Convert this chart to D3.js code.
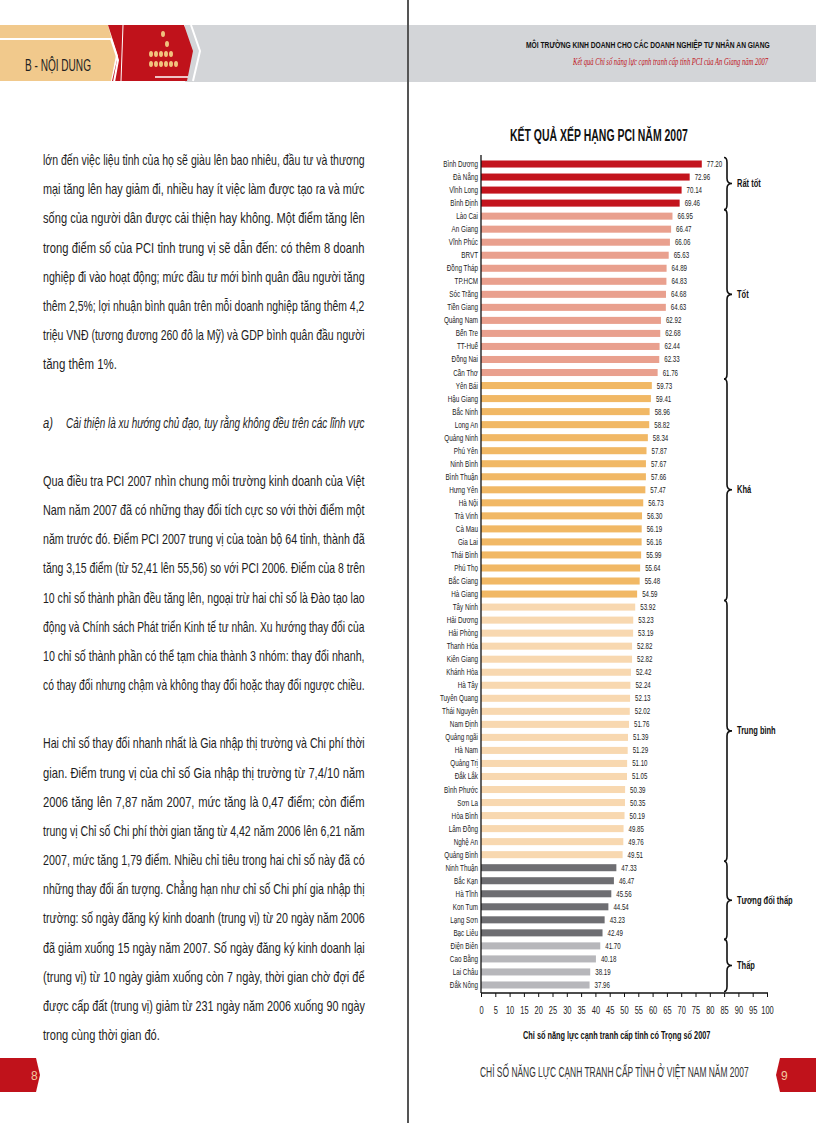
<!DOCTYPE html>
<html><head><meta charset="utf-8">
<script src="https://cdn.jsdelivr.net/npm/d3@7"></script>
<style>html,body{margin:0;padding:0;background:#fff;} svg{display:block}</style>
</head><body>
<svg id="page" width="816" height="1123"></svg>
<script>
// ---------- DATA ----------
const provinces = ["Bình Dương","Đà Nẵng","Vĩnh Long","Bình Định","Lào Cai","An Giang","Vĩnh Phúc","BRVT","Đồng Tháp","TP.HCM","Sóc Trăng","Tiền Giang","Quảng Nam","Bến Tre","TT-Huế","Đồng Nai","Cần Thơ","Yên Bái","Hậu Giang","Bắc Ninh","Long An","Quảng Ninh","Phú Yên","Ninh Bình","Bình Thuận","Hưng Yên","Hà Nội","Trà Vinh","Cà Mau","Gia Lai","Thái Bình","Phú Thọ","Bắc Giang","Hà Giang","Tây Ninh","Hải Dương","Hải Phòng","Thanh Hóa","Kiên Giang","Khánh Hòa","Hà Tây","Tuyên Quang","Thái Nguyên","Nam Định","Quảng ngãi","Hà Nam","Quảng Trị","Đắk Lắk","Bình Phước","Sơn La","Hòa Bình","Lâm Đồng","Nghệ An","Quảng Bình","Ninh Thuận","Bắc Kạn","Hà Tĩnh","Kon Tum","Lạng Sơn","Bạc Liêu","Điện Biên","Cao Bằng","Lai Châu","Đắk Nông"];
const scores = [77.20,72.96,70.14,69.46,66.95,66.47,66.06,65.63,64.89,64.83,64.68,64.63,62.92,62.68,62.44,62.33,61.76,59.73,59.41,58.96,58.82,58.34,57.87,57.67,57.66,57.47,56.73,56.30,56.19,56.16,55.99,55.64,55.48,54.59,53.92,53.23,53.19,52.82,52.82,52.42,52.24,52.13,52.02,51.76,51.39,51.29,51.10,51.05,50.39,50.35,50.19,49.85,49.76,49.51,47.33,46.47,45.56,44.54,43.23,42.49,41.70,40.18,38.19,37.96];
const groupLabels = ["Rất tốt","Tốt","Khá","Trung bình","Tương đối thấp","Thấp"];
const groupSizes = [4,13,17,20,6,4];
const groupColors = ["#c3141d","#e9a08e","#f1b865","#f8d8b0","#6e6e72","#b7b7bb"];
const xTickLabels = [0,5,10,15,20,25,30,35,40,45,50,55,60,65,70,75,80,85,90,95,100];

const chartTitle = "KẾT QUẢ XẾP HẠNG PCI NĂM 2007";
const axisTitle = "Chỉ số năng lực cạnh tranh cấp tỉnh có Trọng số 2007";

const para1 = [
"lớn đến việc liệu tỉnh của họ sẽ giàu lên bao nhiêu, đầu tư và thương",
"mại tăng lên hay giảm đi, nhiều hay ít việc làm được tạo ra và mức",
"sống của người dân được cải thiện hay không. Một điểm tăng lên",
"trong điểm số của PCI tỉnh trung vị sẽ dẫn đến: có thêm 8 doanh",
"nghiệp đi vào hoạt động; mức đầu tư mới bình quân đầu người tăng",
"thêm 2,5%; lợi nhuận bình quân trên mỗi doanh nghiệp tăng thêm 4,2",
"triệu VNĐ (tương đương 260 đô la Mỹ) và GDP bình quân đầu người",
"tăng thêm 1%."];
const headingA = "Cải thiện là xu hướng chủ đạo, tuy rằng không đều trên các lĩnh vực";
const para2 = [
"Qua điều tra PCI 2007 nhìn chung môi trường kinh doanh của Việt",
"Nam năm 2007 đã có những thay đổi tích cực so với thời điểm một",
"năm trước đó. Điểm PCI 2007 trung vị của toàn bộ 64 tỉnh, thành đã",
"tăng 3,15 điểm (từ 52,41 lên 55,56) so với PCI 2006. Điểm của 8 trên",
"10 chỉ số thành phần đều tăng lên, ngoại trừ hai chỉ số là Đào tạo lao",
"động và Chính sách Phát triển Kinh tế tư nhân. Xu hướng thay đổi của",
"10 chỉ số thành phần có thể tạm chia thành 3 nhóm: thay đổi nhanh,",
"có thay đổi nhưng chậm và không thay đổi hoặc thay đổi ngược chiều."];
const para3 = [
"Hai chỉ số thay đổi nhanh nhất là Gia nhập thị trường và Chi phí thời",
"gian. Điểm trung vị của chỉ số Gia nhập thị trường từ 7,4/10 năm",
"2006 tăng lên 7,87 năm 2007, mức tăng là 0,47 điểm; còn điểm",
"trung vị Chỉ số Chi phí thời gian tăng từ 4,42 năm 2006 lên 6,21 năm",
"2007, mức tăng 1,79 điểm. Nhiều chỉ tiêu trong hai chỉ số này đã có",
"những thay đổi ấn tượng. Chẳng hạn như chỉ số Chi phí gia nhập thị",
"trường: số ngày đăng ký kinh doanh (trung vị) từ 20 ngày năm 2006",
"đã giảm xuống 15 ngày năm 2007. Số ngày đăng ký kinh doanh lại",
"(trung vị) từ 10 ngày giảm xuống còn 7 ngày, thời gian chờ đợi để",
"được cấp đất (trung vị) giảm từ 231 ngày năm 2006 xuống 90 ngày",
"trong cùng thời gian đó."];

// ---------- DRAW ----------
const FONT = "'Liberation Sans', Arial, 'DejaVu Sans', sans-serif";
const svg = d3.select("#page");

// text fitted to a width by horizontal scaling (optionally justified with word-spacing)
function fitText(parent, txt, x, y, width, o = {}) {
  const t = parent.append("text").attr("font-family", o.family || FONT).attr("font-size", o.size || 14)
    .attr("fill", o.fill || "#1e1e1e").text(txt);
  if (o.weight) t.attr("font-weight", o.weight);
  if (o.style) t.attr("font-style", o.style);
  const w0 = t.node().getBBox().width;
  let s = width / w0;
  if (o.justify) {
    const base = o.base || 0.8;
    const spaces = (txt.match(/ /g) || []).length;
    if (spaces > 0 && width / base > w0) {
      t.attr("word-spacing", ((width / base) - w0) / spaces);
      const w1 = t.node().getBBox().width;
      s = width / w1;
    }
  }
  t.attr("transform", `translate(${x},${y}) scale(${s},1)`);
  return t;
}

// Header band
svg.append("rect").attr("x",185).attr("y",25).attr("width",631).attr("height",57).attr("fill","#d3d5d8");
svg.append("path").attr("d","M0,25 L108,25 L116,55 L111,81 L0,81 Z").attr("fill","#f1c98c");
svg.append("path").attr("d","M108,25 L184,25 L193,51 L187,81 L112,81 L118,56 Z").attr("fill","#c0121b");
svg.append("path").attr("d","M0,39 L111,39 L118,60 L114,82").attr("fill","none").attr("stroke","#fff").attr("stroke-width",2);
svg.append("path").attr("d","M191,25 L200,51 L193,81").attr("fill","none").attr("stroke","#fff").attr("stroke-width",2);
svg.append("path").attr("d","M123,25 L121,81").attr("fill","none").attr("stroke","#fff").attr("stroke-width",1);
svg.append("line").attr("x1",155).attr("x2",188).attr("y1",77).attr("y2",77).attr("stroke","#fff").attr("stroke-width",1.5);
const dotRows = [[163],[167],[151,156,161,166,171],[151,156,161,166,171,176]];
const dotYs = [34,44,54,64];
dotRows.forEach((xs,i)=>xs.forEach(xv=>svg.append("ellipse").attr("cx",xv).attr("cy",dotYs[i]).attr("rx",2).attr("ry",3).attr("fill","#f0c27e")));
fitText(svg, "B - NỘI DUNG", 25, 71, 66, {size:16, fill:"#222"});
fitText(svg, "MÔI TRƯỜNG KINH DOANH CHO CÁC DOANH NGHIỆP TƯ NHÂN AN GIANG", 526, 48, 244, {size:9, weight:"bold", fill:"#111"});
fitText(svg, "Kết quả Chỉ số năng lực cạnh tranh cấp tỉnh PCI của An Giang năm 2007", 573, 65, 197,
  {size:9.5, style:"italic", fill:"#c0121b", family:"'Liberation Serif','DejaVu Serif',serif"});

// Divider
svg.append("rect").attr("x",407).attr("y",0).attr("width",2).attr("height",1123).attr("fill","#555");

// Left page text
const LX = 43, LW = 322, LH = 29.17, LY0 = 165;
const lineY = n => LY0 + LH*n;
para1.forEach((t,i)=>{
  if (i === para1.length-1) fitText(svg, t, LX, lineY(i), 74, {});
  else fitText(svg, t, LX, lineY(i), LW, {justify:true});
});
svg.append("text").attr("transform",`translate(${LX},${lineY(9)}) scale(0.8,1)`).attr("font-family",FONT).attr("font-size",14)
  .attr("font-style","italic").attr("fill","#1e1e1e").text("a)");
fitText(svg, headingA, 66, lineY(9), 299, {style:"italic", justify:true});
para2.forEach((t,i)=>fitText(svg, t, LX, lineY(11+i), LW, {justify:true}));
para3.forEach((t,i)=>{
  if (i === para3.length-1) fitText(svg, t, LX, lineY(20+i), 117, {});
  else fitText(svg, t, LX, lineY(20+i), LW, {justify:true});
});

// Chart
const x = d3.scaleLinear().domain([0,100]).range([481,767]);
const y = d3.scaleBand().domain(provinces).range([157.5,991.5]).paddingInner(0.46).paddingOuter(0.23);
const groupOf = [];
groupSizes.forEach((s,g)=>{ for(let k=0;k<s;k++) groupOf.push(g); });
const rows = provinces.map((p,i)=>({p, v:scores[i], g:groupOf[i]}));

fitText(svg, chartTitle, 510, 141, 178, {size:16, weight:"bold", fill:"#111"});

const chart = svg.append("g");
chart.selectAll("rect.bar").data(rows).join("rect").attr("class","bar")
  .attr("x",x(0)).attr("y",d=>y(d.p)).attr("width",d=>x(d.v)-x(0)).attr("height",y.bandwidth())
  .attr("fill",d=>groupColors[d.g]);

chart.selectAll("text.prov").data(rows).join("text").attr("class","prov")
  .attr("transform",d=>`translate(478,${y(d.p)+y.bandwidth()/2+3}) scale(0.72,1)`)
  .attr("text-anchor","end").attr("font-family",FONT).attr("font-size",8.8).attr("fill","#222").text(d=>d.p);

chart.selectAll("text.val").data(rows).join("text").attr("class","val")
  .attr("transform",d=>`translate(${x(d.v)+5},${y(d.p)+y.bandwidth()/2+3}) scale(0.7,1)`)
  .attr("font-family",FONT).attr("font-size",8.8).attr("fill","#222").text(d=>d.v.toFixed(2));

// Axes
const axisY = 993;
chart.append("line").attr("x1",x(0)).attr("x2",x(0)).attr("y1",155).attr("y2",axisY).attr("stroke","#111").attr("stroke-width",1.3);
const ax = chart.append("g").attr("transform",`translate(0,${axisY})`)
  .call(d3.axisBottom(x).tickValues(xTickLabels).tickSize(4).tickPadding(9).tickFormat(d=>String(d)));
ax.select(".domain").attr("stroke","#111").attr("stroke-width",1.6).attr("d",`M${x(0)},0H768`);
ax.selectAll(".tick line").attr("stroke","#111").attr("stroke-width",1);
ax.selectAll(".tick text").attr("font-family",FONT).attr("font-size",11).attr("fill","#222").attr("transform","scale(0.68,1)");

fitText(svg, axisTitle, 523, 1039, 188, {size:10, weight:"bold", fill:"#111"});

// Group braces and labels
let start = 0;
const bx = 727;
groupSizes.forEach((s,g)=>{
  const top = y(provinces[start]) - 3;
  const bot = y(provinces[start+s-1]) + y.bandwidth() + 3;
  const mid = (top+bot)/2;
  const p = `M${bx-3},${top} Q${bx},${top} ${bx},${top+5} L${bx},${mid-5} Q${bx},${mid} ${bx+5},${mid} Q${bx},${mid} ${bx},${mid+5} L${bx},${bot-5} Q${bx},${bot} ${bx-3},${bot}`;
  svg.append("path").attr("d",p).attr("fill","none").attr("stroke","#111").attr("stroke-width",1.6);
  svg.append("text").attr("transform",`translate(737,${mid+3.5}) scale(0.75,1)`).attr("font-family",FONT)
    .attr("font-size",10).attr("font-weight","bold").attr("fill","#111").text(groupLabels[g]);
  start += s;
});

// Footer
svg.append("path").attr("d","M0,1058 L36,1058 L40,1075 L36,1092 L0,1092 Z").attr("fill","#c0121b");
svg.append("text").attr("x",31).attr("y",1080).attr("font-family",FONT).attr("font-size",12).attr("fill","#f3c9a0").text("8");
svg.append("path").attr("d","M780,1058 L816,1058 L816,1092 L780,1092 L776,1075 Z").attr("fill","#c0121b");
svg.append("text").attr("x",781).attr("y",1080).attr("font-family",FONT).attr("font-size",12).attr("fill","#f3c9a0").text("9");
fitText(svg, "CHỈ SỐ NĂNG LỰC CẠNH TRANH CẤP TỈNH Ở VIỆT NAM NĂM 2007", 480, 1077, 269, {size:14, fill:"#333"});
</script>
</body></html>
